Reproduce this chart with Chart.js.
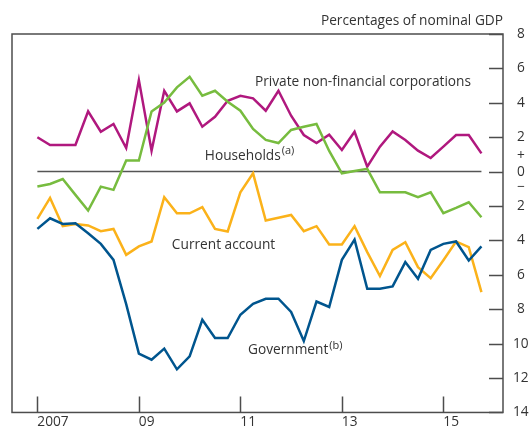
<!DOCTYPE html>
<html><head><meta charset="utf-8">
<script src="https://cdn.jsdelivr.net/npm/chart.js@4.4.1/dist/chart.umd.min.js"></script>
<style>html,body{margin:0;padding:0;background:#fff;}</style>
</head><body>
<canvas id="c" width="529" height="430"></canvas>
<script>
// Quarterly, 2007 Q1 .. 2015 Q4 (index 0..35)
const yearTickIndex = [0, 8, 16, 24, 32];
const yearLabels = ['2007', '09', '11', '13', '15'];
const yTickValues = [8, 6, 4, 2, 0, -2, -4, -6, -8, -10, -12, -14];

const households = [2.0,1.55,1.55,1.55,3.5,2.32,2.77,1.37,5.32,1.22,4.7,3.5,3.97,2.61,3.19,4.12,4.41,4.26,3.54,4.7,3.25,2.13,1.66,2.15,1.26,2.32,0.29,1.45,2.34,1.84,1.22,0.79,1.45,2.13,2.13,1.06];
const pnfc = [-0.87,-0.72,-0.43,-1.35,-2.26,-0.87,-1.06,0.64,0.64,3.5,4.02,4.9,5.51,4.41,4.7,4.06,3.54,2.48,1.84,1.66,2.42,2.61,2.77,1.2,-0.1,0.04,0.16,-1.2,-1.2,-1.2,-1.49,-1.2,-2.42,-2.11,-1.78,-2.65];
const currentAccount = [-2.75,-1.53,-3.17,-3.04,-3.13,-3.46,-3.33,-4.84,-4.35,-4.06,-1.49,-2.42,-2.42,-2.07,-3.33,-3.48,-1.2,-0.1,-2.84,-2.68,-2.52,-3.46,-3.17,-4.24,-4.24,-3.17,-4.68,-6.07,-4.55,-4.1,-5.55,-6.19,-5.15,-4.06,-4.39,-7.0];
const government = [-3.33,-2.71,-3.04,-3.0,-3.58,-4.2,-5.13,-7.7,-10.58,-10.93,-10.29,-11.49,-10.74,-8.61,-9.67,-9.67,-8.32,-7.68,-7.39,-7.39,-8.16,-9.85,-7.55,-7.87,-5.13,-3.95,-6.81,-6.81,-6.67,-5.26,-6.23,-4.55,-4.2,-4.06,-5.17,-4.35];
const zeroLine = households.map(() => 0);

const FONT = '"Open Sans", "Noto Sans", sans-serif';
const TEXT = '#333333';
const AXIS = '#4d4d4d';
const FS = 13.7;

const toPts = arr => arr.map((v, i) => ({x: i, y: v}));

const notes = [
  {text: 'Private non-financial corporations', sup: '', x: 17.15, y: 5.22},
  {text: 'Households', sup: '(a)', x: 13.2, y: 0.93},
  {text: 'Current account', sup: '', x: 10.6, y: -4.29},
  {text: 'Government', sup: '(b)', x: 16.6, y: -10.39}
];

const decor = {
  id: 'decor',
  afterDatasetsDraw(chart) {
    const ctx = chart.ctx, a = chart.chartArea, xs = chart.scales.x, ys = chart.scales.y;
    ctx.save();
    ctx.strokeStyle = AXIS;
    ctx.lineWidth = 1.5;
    ctx.strokeRect(a.left, a.top, a.right - a.left, a.bottom - a.top);
    ctx.beginPath();
    yearTickIndex.forEach(i => {
      const px = Math.round(xs.getPixelForValue(i)) + 0.5;
      ctx.moveTo(px, a.bottom); ctx.lineTo(px, a.bottom - 16);
    });
    yTickValues.forEach(v => {
      const py = Math.round(ys.getPixelForValue(v)) + 0.5;
      ctx.moveTo(a.right, py); ctx.lineTo(a.right - 14, py);
    });
    ctx.stroke();
    ctx.fillStyle = TEXT;
    ctx.textBaseline = 'middle';
    ctx.textAlign = 'left';
    notes.forEach(n => {
      const px = xs.getPixelForValue(n.x), py = ys.getPixelForValue(n.y);
      ctx.font = FS + 'px ' + FONT;
      ctx.fillText(n.text, px, py);
      if (n.sup) {
        const w = ctx.measureText(n.text).width;
        ctx.font = '11px ' + FONT;
        ctx.fillText(n.sup, px + w + 1, py - 5);
      }
    });
    ctx.font = FS + 'px ' + FONT;
    ctx.textAlign = 'right';
    ctx.fillText('Percentages of nominal GDP', a.right, a.top - 13);
    ctx.restore();
  }
};

new Chart(document.getElementById('c'), {
  type: 'line',
  data: {
    datasets: [
      {data: toPts(government), borderColor: '#00558E', order: 0},
      {data: toPts(currentAccount), borderColor: '#FBB21A', order: 0},
      {data: toPts(pnfc), borderColor: '#77BC3F', order: 0},
      {data: toPts(households), borderColor: '#B0187E', order: 0},
      {data: toPts(zeroLine), borderColor: '#555555', borderWidth: 1.5, order: 10}
    ]
  },
  options: {
    responsive: false,
    animation: false,
    events: [],
    layout: {padding: {left: 12, top: 34, right: 0, bottom: 0}},
    elements: {
      point: {radius: 0},
      line: {borderWidth: 2.5, tension: 0, borderCapStyle: 'butt', borderJoinStyle: 'miter'}
    },
    plugins: {legend: {display: false}, tooltip: {enabled: false}, title: {display: false}},
    scales: {
      x: {
        type: 'linear', position: 'bottom', min: -2, max: 36.7,
        grid: {display: false, drawTicks: false}, border: {display: false},
        afterBuildTicks: s => { s.ticks = yearTickIndex.map(v => ({value: v})); },
        afterFit: s => { s.height = 17; },
        ticks: {
          autoSkip: false, maxRotation: 0, align: 'start', padding: 2,
          color: TEXT, font: {family: FONT, size: FS, lineHeight: 1.1},
          callback: v => yearLabels[yearTickIndex.indexOf(v)]
        }
      },
      y: {
        type: 'linear', position: 'right', min: -14, max: 8,
        grid: {display: false, drawTicks: false}, border: {display: false},
        afterBuildTicks: s => { s.ticks = yTickValues.map(v => ({value: v})); },
        afterFit: s => { s.width = 26; },
        ticks: {
          autoSkip: false, crossAlign: 'center', padding: 10,
          color: TEXT, font: {family: FONT, size: FS, lineHeight: 1.1},
          callback: v => v === 0 ? ['+', '0', '\u2212'] : String(Math.abs(v))
        }
      }
    }
  },
  plugins: [decor]
});
</script>
</body></html>
